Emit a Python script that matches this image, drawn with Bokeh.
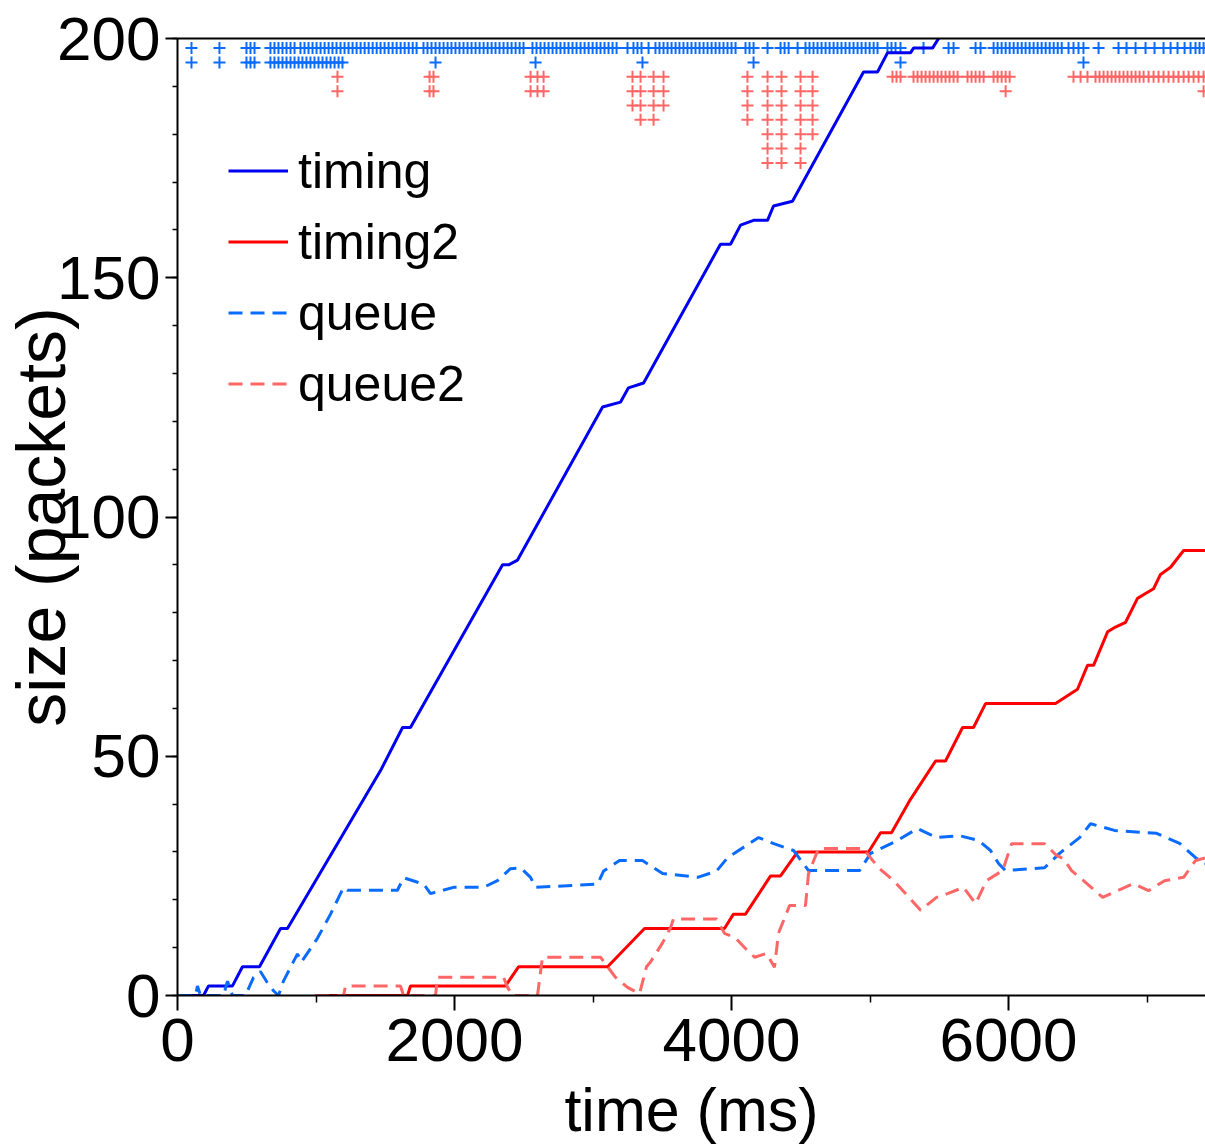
from bokeh.plotting import figure
from bokeh.models import Range1d, FixedTicker, Legend, LegendItem, LinearAxis
from bokeh.embed import file_html
from bokeh.resources import INLINE

# ---------------- data (time in ms, size in packets) ----------------
timing_t = [0, 188, 224, 397, 469, 592, 744, 794, 1466, 1625, 1682, 2347, 2390, 2455, 3069, 3198,
            3256, 3365, 3920, 3993, 4065, 4159, 4260, 4303, 4440, 4953, 5054, 5126, 5292, 5314,
            5451, 5495, 5560]
timing_v = [0, 0, 2, 2, 6, 6, 14, 14, 47, 56, 56, 90, 90, 91, 123, 124,
            127, 128, 157, 157, 161, 162, 162, 165, 166, 193, 193, 197, 197, 198,
            198, 200, 203]

timing2_t = [996, 1661, 1682, 2368, 2462, 3105, 3372, 3949, 4014, 4101, 4282, 4354, 4477, 4989,
             5076, 5155, 5292, 5473, 5545, 5668, 5747, 5834, 6339, 6498, 6570, 6614, 6715, 6772,
             6845, 6931, 6989, 7047, 7097, 7170, 7264, 7422]
timing2_v = [0, 0, 2, 2, 6, 6, 14, 14, 17, 17, 25, 25, 30, 30,
             34, 34, 41, 49, 49, 56, 56, 61, 61, 64, 69, 69, 76, 77,
             78, 83, 84, 85, 88, 89.5, 93, 93]

queue_t = [0, 130, 144, 166, 332, 361, 397, 491, 549, 599, 650, 693, 729, 765, 866, 895, 1011,
           1105, 1199, 1227, 1588, 1632, 1776, 1827, 1993, 2209, 2310, 2404, 2477, 2549, 2585,
           3033, 3076, 3191, 3357, 3502, 3755, 3892, 3971, 4195, 4310, 4448, 4556, 4924, 5004,
           5198, 5343, 5480, 5646, 5783, 5870, 5928, 5978, 6260, 6368, 6513, 6592, 6765, 7069,
           7235, 7350, 7422]
queue_v = [0, 0, 2, 0, 0, 3, 0, 0, 3.8, 5, 2.6, 1, 0, 3, 8.7, 7, 12,
           17, 22.6, 22, 22, 24.6, 23.3, 21.3, 22.6, 22.6, 24, 26.5, 26.7, 24.7, 22.6,
           23.3, 26, 28.2, 28.2, 25.5, 24.7, 26, 28.8, 33, 31.7, 30.3, 26.1, 26.1, 29.7,
           32.4, 34.9, 33, 33.4, 32.4, 30.3, 27.6, 26.1, 26.7, 29.7, 33, 35.9, 34.5, 33.9,
           31.8, 28.8, 27.6]

queue2_t = [996, 1199, 1213, 1610, 1632, 1863, 1877, 2354, 2383, 2419, 2599, 2635, 3054, 3162,
            3249, 3336, 3386, 3415, 3502, 3560, 3581, 3892, 3949, 4029, 4115, 4166, 4253, 4310,
            4339, 4419, 4534, 4556, 4628, 4953, 4989, 5061, 5170, 5256, 5365, 5480, 5560, 5675,
            5762, 5841, 5957, 6022, 6260, 6346, 6397, 6455, 6541, 6679, 6787, 6902, 7011, 7126,
            7264, 7350, 7422]
queue2_v = [0, 0, 2, 2, 0, 0, 3.8, 3.8, 1.7, 0, 0, 8, 8, 3.8,
            1.7, 0.4, 6, 7, 11, 14.2, 16, 16, 13, 12, 9.4, 8, 8.8, 5.9,
            13, 18.8, 18.8, 25.5, 30.7, 30.7, 29.3, 26.7, 24, 21.3, 17.8, 20.5, 21.3, 22.6,
            19.2, 24, 26.1, 31.7, 31.7, 29.3, 28.6, 26.1, 24, 20.5, 21.9, 23.4, 21.9, 24,
            24.7, 28.2, 28.8]

# drop events (top rows)
blue_row1_t = [101, 303, 498, 527, 556, 671, 700, 729, 758, 787, 816, 845,
               888, 917, 946, 975, 1004, 1033, 1062, 1091, 1119, 1148, 1177, 1206, 1235, 1264,
               1293, 1322, 1351, 1380, 1409, 1438, 1466, 1495, 1524, 1553, 1582, 1611, 1640,
               1669, 1698, 1726,
               1776, 1805, 1834, 1863, 1892, 1921, 1950, 1978, 2007, 2036, 2065, 2094, 2123,
               2152, 2181, 2210, 2239, 2268, 2296, 2325, 2354, 2383, 2412, 2441, 2470,
               2498,
               2563, 2592, 2621, 2650, 2679, 2708, 2736, 2765, 2794, 2823, 2852, 2881, 2910,
               2939, 2968, 2997, 3026, 3054, 3083, 3112, 3141, 3170,
               3249, 3292, 3321, 3350, 3401,
               3451, 3480, 3509, 3538, 3567, 3596, 3624, 3653, 3682, 3711, 3740, 3769, 3798,
               3827, 3856, 3885, 3913, 3942, 3971, 4000, 4029,
               4101, 4130, 4159, 4260, 4354, 4383, 4412, 4477,
               4534, 4563, 4592, 4621, 4650, 4679, 4708, 4737, 4765, 4794, 4823, 4852, 4881,
               4910, 4939, 4968, 4997, 5026, 5054,
               5126, 5155, 5184, 5220, 5386, 5567, 5603, 5762, 5798, 5892,
               5921, 5950, 5979, 6008, 6037, 6066, 6095, 6123, 6152, 6181, 6210, 6239, 6268,
               6297, 6326, 6355, 6384,
               6433, 6469, 6505, 6541, 6650, 6794, 6852, 6917, 6989, 7054, 7119, 7170, 7220,
               7271, 7314, 7350, 7379, 7408]
blue_row2_t = [101, 303, 498, 527, 556, 671, 700, 729, 758, 787, 816, 845, 874, 902, 931, 960,
               989, 1018, 1047, 1076, 1105, 1134, 1163, 1191, 1863, 2585, 3357, 4159, 5220, 6541]

red_col_t = [1155, 1820, 1848, 2549, 2599, 2643, 3285, 3343, 3437, 3509, 4115, 4260, 4361,
             4498, 4585]
red_col_n = [2, 2, 2, 2, 2, 2, 3, 4, 4, 3, 4, 7, 7, 7, 5]
red_row1_t = [5162, 5191, 5220, 5314, 5343, 5372, 5401, 5430, 5459, 5488, 5516, 5545, 5574,
              5603, 5632, 5704, 5733, 5762, 5791, 5820, 5892, 5921, 5950, 5979, 6008,
              6469, 6520, 6570, 6628, 6657, 6686, 6715, 6744, 6772, 6801, 6830, 6859, 6888,
              6917, 6946, 6975, 7011, 7047, 7083, 7119, 7155, 7191, 7227, 7264, 7300, 7336,
              7372, 7408]
red_row2_t = [5979, 7408]

row_levels = [198, 195, 192, 189, 186, 183, 180, 177, 174]

x_ticks = [0, 2000, 4000, 6000]
x_minor = [1000, 3000, 5000, 7000]
y_ticks = [0, 50, 100, 150, 200]

# ---------------- styling ----------------
BLUE = "#0000f0"
RED = "#ff0000"
LBLUE = "#0a6cff"
LRED = "#ff6666"
FONT = "Liberation Sans"

p = figure(width=1205, height=1147, output_backend="svg", toolbar_location=None,
           x_range=Range1d(0, 7422), y_range=Range1d(0, 200),
           min_border_left=177, min_border_right=0, min_border_top=38, min_border_bottom=152)
p.outline_line_color = None
p.grid.visible = False
p.background_fill_color = "white"
p.border_fill_color = "white"

# markers
bx = blue_row1_t + blue_row2_t
by = [row_levels[0]] * len(blue_row1_t) + [row_levels[1]] * len(blue_row2_t)
p.scatter(bx, by, marker="cross", size=12, line_width=2, line_color=LBLUE)

rx, ry = [], []
for t, n in zip(red_col_t, red_col_n):
    for k in range(n):
        rx.append(t)
        ry.append(row_levels[2 + k])
rx += red_row1_t + red_row2_t
ry += [row_levels[2]] * len(red_row1_t) + [row_levels[3]] * len(red_row2_t)
p.scatter(rx, ry, marker="cross", size=12, line_width=2, line_color=LRED)

r1 = p.line(timing_t, timing_v, line_color=BLUE, line_width=3)
r2 = p.line(timing2_t, timing2_v, line_color=RED, line_width=3)
r3 = p.line(queue_t, queue_v, line_color=LBLUE, line_width=3, line_dash="14 8")
r4 = p.line(queue2_t, queue2_v, line_color=LRED, line_width=3, line_dash="14 8")

legend = Legend(items=[LegendItem(label="timing", renderers=[r1]),
                       LegendItem(label="timing2", renderers=[r2]),
                       LegendItem(label="queue", renderers=[r3]),
                       LegendItem(label="queue2", renderers=[r4])],
                location=(51, 576), padding=0, margin=0, spacing=0,
                glyph_width=60, glyph_height=71, label_height=71, label_standoff=10,
                label_text_font=FONT, label_text_font_size="50px",
                label_text_color="black", border_line_color=None,
                background_fill_alpha=0)
p.add_layout(legend, "center")

# axes
xa = p.xaxis[0]
xa.ticker = FixedTicker(ticks=x_ticks, minor_ticks=x_minor)
xa.axis_label = "time (ms)"
xa.axis_label_text_font = FONT
xa.axis_label_text_font_size = "61px"
xa.axis_label_text_font_style = "normal"
xa.axis_label_text_color = "black"
xa.axis_label_standoff = 12
xa.major_label_text_font = FONT
xa.major_label_text_font_size = "62px"
xa.major_label_text_color = "black"
xa.major_label_standoff = 8
xa.axis_line_width = 2
xa.axis_line_color = "black"
xa.major_tick_in = 0
xa.major_tick_out = 15
xa.minor_tick_in = 0
xa.minor_tick_out = 7
xa.major_tick_line_width = 2
xa.minor_tick_line_width = 1.5
xa.major_tick_line_color = "black"
xa.minor_tick_line_color = "black"

ya = p.yaxis[0]
ya.ticker = FixedTicker(ticks=y_ticks, minor_ticks=list(range(0, 201, 10)))
ya.axis_label = "size (packets)"
ya.axis_label_text_font = FONT
ya.axis_label_text_font_size = "68px"
ya.axis_label_text_font_style = "normal"
ya.axis_label_text_color = "black"
ya.axis_label_standoff = -25
ya.major_label_text_font = FONT
ya.major_label_text_font_size = "62px"
ya.major_label_text_color = "black"
ya.major_label_standoff = 5
ya.axis_line_width = 2
ya.axis_line_color = "black"
ya.major_tick_in = 0
ya.major_tick_out = 12
ya.minor_tick_in = 0
ya.minor_tick_out = 5
ya.major_tick_line_width = 2
ya.minor_tick_line_width = 1.5
ya.major_tick_line_color = "black"
ya.minor_tick_line_color = "black"

top = LinearAxis(ticker=FixedTicker(ticks=[]), major_label_text_font_size="0px",
                 major_tick_in=0, major_tick_out=0, minor_tick_in=0, minor_tick_out=0,
                 axis_line_width=2, axis_line_color="black", major_label_standoff=0)
p.add_layout(top, "above")

open("out.html", "w").write(file_html(p, INLINE))
